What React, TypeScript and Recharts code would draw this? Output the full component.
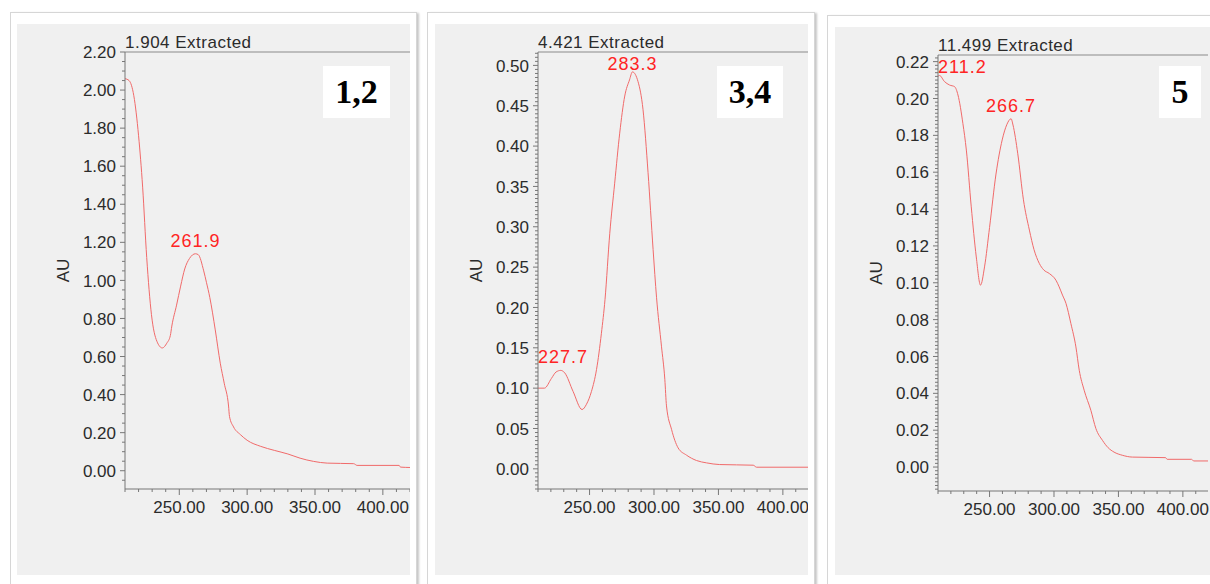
import React from 'react';
import { LineChart, Line, XAxis, YAxis, ReferenceLine, LabelList } from 'recharts';

// UV spectra (wavelength in nm, absorbance in AU)
const nm12 = [210, 213, 216.5, 220, 223, 226, 229.5, 233.5, 237.5, 240.8, 243.4, 244.5, 248, 251, 254, 257.5, 261.9, 264, 268, 270, 272.5, 276.5, 280.2, 283.1, 286.3, 287, 290, 295, 300, 310, 320, 330, 339, 349, 359, 378.5, 381, 412, 413, 420];
const au12 = [2.06, 2.05, 1.97, 1.76, 1.49, 1.12, 0.82, 0.68, 0.645, 0.67, 0.71, 0.76, 0.87, 0.97, 1.06, 1.115, 1.14, 1.135, 1.05, 0.99, 0.91, 0.74, 0.565, 0.46, 0.34, 0.285, 0.23, 0.19, 0.16, 0.128, 0.107, 0.088, 0.066, 0.049, 0.04, 0.037, 0.028, 0.028, 0.019, 0.017];
const peaks12 = [261.9];

const nm34 = [210, 215, 220.4, 224, 227.7, 230.7, 237.2, 244.2, 247.6, 251.5, 255.4, 259.2, 262, 265.7, 269.5, 273.4, 277.3, 281, 283.3, 287.6, 291.5, 295.4, 299.3, 302, 305.8, 308.4, 309.7, 313.6, 318.7, 325.2, 333, 340.7, 351, 377, 379.6, 419.5];
const au34 = [0.1, 0.1, 0.112, 0.12, 0.122, 0.119, 0.096, 0.0735, 0.08, 0.096, 0.123, 0.168, 0.21, 0.292, 0.354, 0.416, 0.462, 0.482, 0.492, 0.48, 0.445, 0.367, 0.272, 0.212, 0.152, 0.111, 0.078, 0.049, 0.026, 0.017, 0.0103, 0.0074, 0.0053, 0.0045, 0.002, 0.002];
const peaks34 = [227.7, 283.3];

const nm5 = [210, 211.2, 215, 219, 222.9, 225.5, 229.3, 232, 235.8, 239.7, 243, 246.1, 250, 255, 259.8, 263.5, 266.7, 268.2, 271.9, 276.3, 280.9, 284.5, 288.6, 292, 296.4, 301.5, 304, 306.6, 309.3, 313.1, 317, 319.6, 323.4, 328.6, 332.5, 337.6, 342, 346.6, 353, 360.8, 386.6, 387.8, 406.7, 408.5, 419.5];
const au5 = [0.212, 0.2125, 0.2092, 0.2073, 0.2064, 0.2019, 0.1865, 0.172, 0.1412, 0.114, 0.0987, 0.1086, 0.13, 0.159, 0.1775, 0.186, 0.189, 0.1856, 0.17, 0.145, 0.1286, 0.118, 0.1105, 0.107, 0.105, 0.1014, 0.0978, 0.0933, 0.0888, 0.0779, 0.0652, 0.0525, 0.0417, 0.0308, 0.0209, 0.0145, 0.0105, 0.0081, 0.0064, 0.0054, 0.0051, 0.0042, 0.0042, 0.0033, 0.0033];
const peaks5 = [211.2, 266.7];

// axis labels
const xMajor = [250, 300, 350, 400];
const yMajor12 = [0, 0.2, 0.4, 0.6, 0.8, 1.0, 1.2, 1.4, 1.6, 1.8, 2.0, 2.2];
const yMajor34 = [0, 0.05, 0.1, 0.15, 0.2, 0.25, 0.3, 0.35, 0.4, 0.45, 0.5];
const yMajor5 = [0, 0.02, 0.04, 0.06, 0.08, 0.1, 0.12, 0.14, 0.16, 0.18, 0.2, 0.22];

const FONT = "'Liberation Sans', Arial, sans-serif";
const INK = '#2b2b2b';
const AXIS = '#777';
const TRACE = '#f06a6a';
const PEAK_RED = '#ff2424';
const PLOT_TOP = 28;

const stepTicks = (lo: number, hi: number, step: number) => {
  const out: number[] = [];
  for (let i = Math.ceil(lo / step - 1e-9); i * step <= hi + 1e-9; i++) out.push(+(i * step).toFixed(6));
  return out;
};
const isMajor = (v: number, major: number[]) => major.some((m) => Math.abs(m - v) < 1e-6);

const panels = [
  {
    title: '1.904 Extracted', tag: '1,2', wl: nm12, au: au12, peaks: peaks12,
    yMajor: yMajor12, yStep: 0.05, yDomain: [-0.096, 2.2], xDomain: [210, 420],
    frame: { left: 10, top: 12, width: 407, height: 580 },
    grey: { left: 17, top: 24, width: 393, height: 551 },
    yAxisWidth: 108, xAxisHeight: 86, right: 0,
    tagBox: { left: 323, top: 66, width: 67, height: 52 },
  },
  {
    title: '4.421 Extracted', tag: '3,4', wl: nm34, au: au34, peaks: peaks34,
    yMajor: yMajor34, yStep: 0.005, yDomain: [-0.025, 0.5166], xDomain: [210, 419.5],
    frame: { left: 427, top: 12, width: 388, height: 580 },
    grey: { left: 435, top: 24, width: 373, height: 551 },
    yAxisWidth: 103, xAxisHeight: 86, right: 0,
    tagBox: { left: 717, top: 66, width: 66, height: 52 },
  },
  {
    title: '11.499 Extracted', tag: '5', wl: nm5, au: au5, peaks: peaks5,
    yMajor: yMajor5, yStep: 0.002, yDomain: [-0.013, 0.2236], xDomain: [210, 419.5],
    frame: { left: 827, top: 15, width: 400, height: 580 },
    grey: { left: 835, top: 27, width: 375, height: 548 },
    yAxisWidth: 103, xAxisHeight: 84, right: 2,
    tagBox: { left: 1159, top: 66, width: 42, height: 52 },
  },
];

const YTick = ({ x, y, payload, major }: any) => {
  const big = isMajor(payload.value, major);
  return (
    <g>
      <line x1={x - (big ? 5 : 3)} x2={x} y1={y} y2={y} stroke={AXIS} strokeWidth={1} />
      {big && (
        <text x={x - 9} y={y} dy="0.36em" textAnchor="end" fontSize={17} fontFamily={FONT} fill={INK}>
          {payload.value.toFixed(2)}
        </text>
      )}
    </g>
  );
};

const XTick = ({ x, y, payload }: any) => {
  const big = isMajor(payload.value, xMajor);
  return (
    <g>
      <line x1={x} x2={x} y1={y} y2={y + (big ? 6 : 3)} stroke={AXIS} strokeWidth={1} />
      {big && (
        <text x={x} y={y + 24} textAnchor="middle" fontSize={17} fontFamily={FONT} fill={INK}>
          {payload.value.toFixed(2)}
        </text>
      )}
    </g>
  );
};

const Panel = ({ p }: { p: (typeof panels)[number] }) => {
  const data = p.wl.map((wl, i) => ({ wl, au: p.au[i] }));
  const xTicks = stepTicks(p.xDomain[0], p.xDomain[1], 10);
  const yTicks = stepTicks(p.yDomain[0], p.yDomain[1], p.yStep);

  // peak wavelength written above its maximum, kept clear of the top border
  const renderPeak = (props: any) => {
    const { x, y, value } = props;
    if (!p.peaks.some((w) => Math.abs(w - value) < 1e-6)) return null;
    const nearLeft = x - 25 < p.yAxisWidth;
    return (
      <text
        x={nearLeft ? p.yAxisWidth : x}
        y={Math.max(y - 7, PLOT_TOP + 18)}
        textAnchor={nearLeft ? 'start' : 'middle'}
        fontSize={18}
        letterSpacing={1}
        fontFamily={FONT}
        fill={PEAK_RED}
      >
        {value.toFixed(1)}
      </text>
    );
  };

  return (
    <>
      <div
        style={{
          position: 'absolute', ...p.frame, boxSizing: 'border-box', background: '#fff',
          border: '1px solid #d6d6d6', boxShadow: '2px 1px 2px rgba(0,0,0,0.22)',
        }}
      />
      <div style={{ position: 'absolute', ...p.grey, background: '#f0f0f0' }} />
      <div style={{ position: 'absolute', left: p.grey.left, top: p.grey.top }}>
        <LineChart
          width={p.grey.width}
          height={p.grey.height}
          data={data}
          margin={{ top: PLOT_TOP, right: p.right, bottom: 0, left: 0 }}
        >
          <XAxis
            dataKey="wl"
            type="number"
            domain={p.xDomain}
            allowDataOverflow
            ticks={xTicks}
            interval={0}
            height={p.xAxisHeight}
            tickSize={0}
            tickMargin={0}
            tickLine={false}
            axisLine={{ stroke: AXIS }}
            tick={(props: any) => <XTick {...props} />}
          />
          <YAxis
            type="number"
            domain={p.yDomain}
            allowDataOverflow
            ticks={yTicks}
            interval={0}
            width={p.yAxisWidth}
            tickSize={0}
            tickMargin={0}
            tickLine={false}
            axisLine={{ stroke: AXIS }}
            tick={(props: any) => <YTick {...props} major={p.yMajor} />}
            label={(props: any) => {
              const vb = props.viewBox || {};
              const cx = vb.x + vb.width - 62;
              const cy = vb.y + vb.height / 2;
              return (
                <text
                  x={cx}
                  y={cy}
                  dy="0.36em"
                  textAnchor="middle"
                  transform={`rotate(-90 ${cx} ${cy})`}
                  fontSize={17}
                  fontFamily={FONT}
                  fill={INK}
                >
                  AU
                </text>
              );
            }}
          />
          <ReferenceLine
            y={p.yDomain[1]}
            stroke="#8a8a8a"
            strokeWidth={1}
            label={(props: any) => {
              const vb = props.viewBox || {};
              return (
                <text x={vb.x} y={vb.y - 4.5} fontSize={17} letterSpacing={0.5} fontFamily={FONT} fill={INK}>
                  {p.title}
                </text>
              );
            }}
          />
          <Line
            type="monotone"
            dataKey="au"
            stroke={TRACE}
            strokeWidth={1}
            dot={false}
            isAnimationActive={false}
          >
            <LabelList dataKey="wl" content={renderPeak} />
          </Line>
        </LineChart>
      </div>
      <div
        style={{
          position: 'absolute', ...p.tagBox, background: '#fff', display: 'flex',
          alignItems: 'center', justifyContent: 'center', fontFamily: "'Liberation Serif', 'Times New Roman', serif",
          fontWeight: 700, fontSize: 34, color: '#000', lineHeight: 1,
        }}
      >
        {p.tag}
      </div>
    </>
  );
};

export default function App() {
  return (
    <div style={{ position: 'absolute', left: 0, top: 0, width: 1210, height: 584, overflow: 'hidden', background: '#fff' }}>
      {panels.map((p) => (
        <Panel key={p.tag} p={p} />
      ))}
    </div>
  );
}
